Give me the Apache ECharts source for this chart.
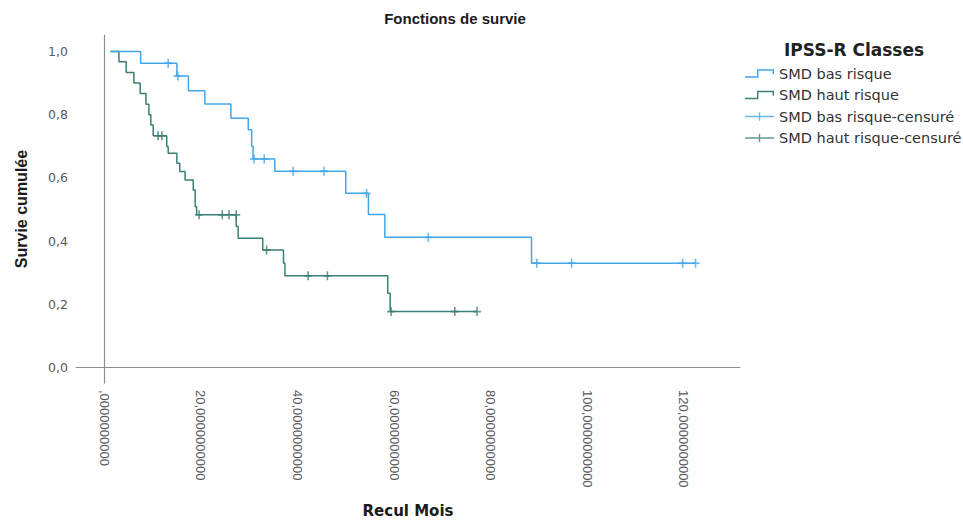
<!DOCTYPE html>
<html><head><meta charset="utf-8">
<script src="https://cdn.jsdelivr.net/npm/echarts@6/dist/echarts.min.js"></script>
<style>html,body{margin:0;padding:0;background:#fff}#c{width:963px;height:524px}</style>
</head><body><div id="c"></div>
<script>
// ---- data ----
const xTicks = [0, 20, 40, 60, 80, 100, 120];
const yTicks = [0, 0.2, 0.4, 0.6, 0.8, 1.0];
const seriesNames = ['SMD bas risque', 'SMD haut risque', 'SMD bas risque-censuré', 'SMD haut risque-censuré'];

const blueT = [1.2, 7.5, 15.0, 17.4, 20.8, 26.2, 29.8, 30.5, 30.8, 35.3, 50.0, 54.7, 58.1, 88.5, 122.5];
const blueS = [1.0, 0.963, 0.922, 0.876, 0.834, 0.789, 0.752, 0.699, 0.660, 0.621, 0.551, 0.484, 0.412, 0.330, 0.330];
const blueCensT = [13.2, 15.2, 31.0, 33.1, 39.1, 45.5, 54.3, 67.1, 89.6, 96.8, 119.8, 122.5];
const blueCensS = [0.963, 0.922, 0.660, 0.660, 0.621, 0.621, 0.551, 0.412, 0.330, 0.330, 0.330, 0.330];

const greenT = [1.2, 3.0, 4.5, 6.1, 7.4, 8.6, 9.2, 9.6, 10.1, 12.9, 13.2, 15.0, 15.6, 16.7, 18.4, 18.8, 19.1, 27.3, 27.7, 32.8, 37.1, 37.4, 58.7, 59.2, 77.2];
const greenS = [1.0, 0.967, 0.933, 0.900, 0.867, 0.833, 0.800, 0.767, 0.733, 0.699, 0.678, 0.646, 0.620, 0.593, 0.562, 0.509, 0.483, 0.446, 0.409, 0.372, 0.330, 0.290, 0.235, 0.177, 0.177];
const greenCensT = [11.1, 11.9, 19.6, 24.4, 25.8, 27.3, 33.6, 42.2, 46.2, 59.4, 72.6, 77.2];
const greenCensS = [0.733, 0.733, 0.483, 0.483, 0.483, 0.483, 0.372, 0.290, 0.290, 0.177, 0.177, 0.177];

// ---- styling ----
const BLUE = '#41a6ea';
const GREEN = '#3b7f75';
const plusPath = 'path://M4,0H6V4H10V6H6V10H4V6H0V4H4Z';
const stepIcon = 'path://M0,7H12V0H29V5H27.6V1.4H13.4V8.4H0Z';
const censIcon = 'path://M0,3.5H29V4.9H0Z M13.8,0H15.2V8.4H13.8Z';
const zip = (a, b) => a.map((v, i) => [v, b[i]]);

const chart = echarts.init(document.getElementById('c'), null, {renderer: 'svg'});
chart.setOption({
  animation: false,
  backgroundColor: '#fff',
  grid: {left: 76, top: 35, width: 664, height: 348, containLabel: false},
  graphic: [
    {type: 'text', style: {text: 'Fonctions de survie', x: 455, y: 18, textAlign: 'center', textVerticalAlign: 'middle',
      fontFamily: 'Liberation Sans', fontWeight: 'bold', fontSize: 15, fill: '#1a1a1a'}},
    {type: 'text', style: {text: 'IPSS-R Classes', x: 854, y: 50, textAlign: 'center', textVerticalAlign: 'middle',
      fontFamily: 'DejaVu Sans', fontWeight: 'bold', fontSize: 17, fill: '#222'}}
  ],
  legend: {
    orient: 'vertical', left: 745, top: 66, padding: 0,
    itemWidth: 29, itemHeight: 12, itemGap: 6.5,
    selectedMode: false,
    textStyle: {fontFamily: 'DejaVu Sans', fontSize: 14.5, color: '#333', lineHeight: 14},
    data: [
      {name: seriesNames[0], icon: stepIcon, itemStyle: {color: BLUE, borderWidth: 0}},
      {name: seriesNames[1], icon: stepIcon, itemStyle: {color: GREEN, borderWidth: 0}},
      {name: seriesNames[2], icon: censIcon, itemStyle: {color: BLUE, borderWidth: 0}},
      {name: seriesNames[3], icon: censIcon, itemStyle: {color: GREEN, borderWidth: 0}}
    ]
  },
  xAxis: {
    type: 'value', min: -5.9, max: 131.7,
    name: 'Recul Mois', nameLocation: 'middle', nameGap: 120,
    nameTextStyle: {fontFamily: 'DejaVu Sans', fontWeight: 'bold', fontSize: 15, color: '#1a1a1a'},
    splitLine: {show: false},
    axisTick: {show: false},
    axisLine: {lineStyle: {color: '#8e8e8e', width: 1.2}},
    axisLabel: {
      customValues: xTicks, rotate: -90, margin: 7,
      fontFamily: 'Liberation Sans', fontSize: 13, color: '#5a5a5a',
      formatter: v => (v === 0 ? '' : String(v)) + ',0000000000'
    }
  },
  yAxis: {
    type: 'value', min: -0.049, max: 1.052,
    name: 'Survie cumulée', nameLocation: 'middle', nameGap: 47,
    nameTextStyle: {fontFamily: 'Liberation Sans', fontWeight: 'bold', fontSize: 16, color: '#1a1a1a'},
    splitLine: {show: false},
    axisTick: {show: false},
    axisLine: {show: true, lineStyle: {color: '#8e8e8e', width: 1.2}},
    axisLabel: {
      customValues: yTicks, margin: 8,
      fontFamily: 'DejaVu Sans', fontSize: 12.5, color: '#5a5a5a',
      formatter: v => v.toFixed(1).replace('.', ',')
    }
  },
  series: [
    {name: seriesNames[0], type: 'line', step: 'end', showSymbol: false, data: zip(blueT, blueS),
      lineStyle: {color: BLUE, width: 1.5}, itemStyle: {color: BLUE}, z: 3},
    {name: seriesNames[1], type: 'line', step: 'end', showSymbol: false, data: zip(greenT, greenS),
      lineStyle: {color: GREEN, width: 1.5}, itemStyle: {color: GREEN}, z: 2},
    {name: seriesNames[2], type: 'scatter', symbol: plusPath, symbolSize: [8, 9], data: zip(blueCensT, blueCensS),
      itemStyle: {color: BLUE}, z: 4},
    {name: seriesNames[3], type: 'scatter', symbol: plusPath, symbolSize: [8, 9], data: zip(greenCensT, greenCensS),
      itemStyle: {color: GREEN}, z: 4}
  ]
});
</script></body></html>
